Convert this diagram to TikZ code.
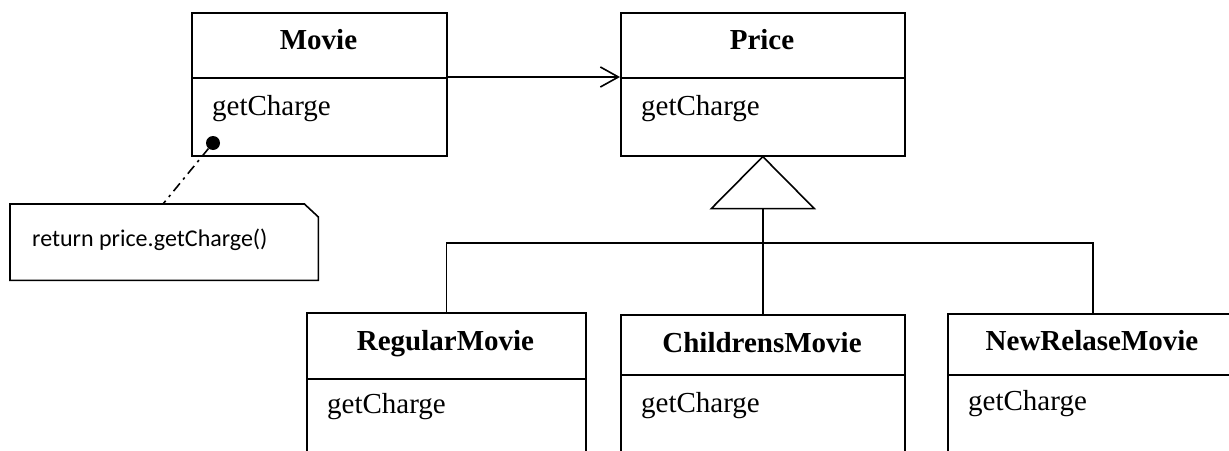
\documentclass[tikz,border=0pt]{standalone}
\usepackage{fontspec}
\setmainfont{Liberation Serif}
\newfontfamily\notefont{Carlito}
\usetikzlibrary{arrows.meta,calc}
\begin{document}
\begin{tikzpicture}[x=1pt,y=-1pt,
  box/.style={draw,line width=1.6pt,inner sep=0pt,anchor=north west},
  cname/.style={anchor=base,font=\fontsize{29}{34}\selectfont\bfseries,inner sep=0pt},
  oper/.style={anchor=base west,font=\fontsize{29}{34}\selectfont,inner sep=0pt},
  link/.style={line width=1.6pt}]
\useasboundingbox (0,0) rectangle (1229,450);
\clip (0,0) rectangle (1229,450);

% Movie
\node[box,minimum width=255pt,minimum height=65pt] (movieH) at (191,12) {};
\node[box,minimum width=255pt,minimum height=78pt] (movieB) at (191,77) {};
\node[cname] (movieT) at (318.5,49) {Movie};
\node[oper] (movieO) at (212,115) {getCharge};

% Price
\node[box,minimum width=284pt,minimum height=65pt] (priceH) at (620,12) {};
\node[box,minimum width=284pt,minimum height=78pt] (priceB) at (620,77) {};
\node[cname] (priceT) at (762,49) {Price};
\node[oper] (priceO) at (641,115) {getCharge};

% Subclasses
\node[box,minimum width=279pt,minimum height=66pt] (regH) at (306,312) {};
\node[box,minimum width=279pt,minimum height=100pt] (regB) at (306,378) {};
\node[cname] (regT) at (445.5,350) {RegularMovie};
\node[oper] (regO) at (327,413) {getCharge};

\node[box,minimum width=284pt,minimum height=60pt] (chH) at (620,314) {};
\node[box,minimum width=284pt,minimum height=100pt] (chB) at (620,374) {};
\node[cname] (chT) at (762,352) {ChildrensMovie};
\node[oper] (chO) at (641,412) {getCharge};

\node[box,minimum width=290pt,minimum height=61pt] (newH) at (947,313) {};
\node[box,minimum width=290pt,minimum height=100pt] (newB) at (947,374) {};
\node[cname] (newT) at (1092,350) {NewRelaseMovie};
\node[oper] (newO) at (968,410) {getCharge};

% Association Movie -> Price
\draw[link,-{Straight Barb[length=18pt,width=20pt,line width=1.6pt]}] (movieB.north east) -- (priceB.north west);

% Generalization
\coordinate (apex) at (priceB.south);
\coordinate (tribase) at ($(apex)+(0,52)$);
\coordinate (bus) at (760,243);
\draw[link,fill=white] (apex) -- ($(tribase)+(-51.5,0)$) -- ($(tribase)+(51.5,0)$) -- cycle;
\draw[link] (tribase) -- (chH.north);
\draw[link] (regH.north) -- (regH.north |- bus) -- (newH.north |- bus) -- (newH.north);

% Note
\node[inner sep=0pt,minimum width=308pt,minimum height=76pt,anchor=north west] (note) at (10,204) {};
\draw[link] (note.north west) -- ($(note.north east)+(-14,0)$) -- ($(note.north east)+(0,13)$)
  -- (note.south east) -- (note.south west) -- cycle;
\node[anchor=base west,inner sep=0pt,font=\notefont\fontsize{24}{28}\selectfont] (noteT) at (32,246) {return price.getCharge()};
\node[circle,fill=black,inner sep=0pt,minimum size=14pt] (dot) at (213,143) {};
\coordinate (noteTop) at (163,204);
\draw[link,dash pattern=on 10pt off 5pt on 2.5pt off 5pt] (dot) -- (noteTop);
\end{tikzpicture}
\end{document}
